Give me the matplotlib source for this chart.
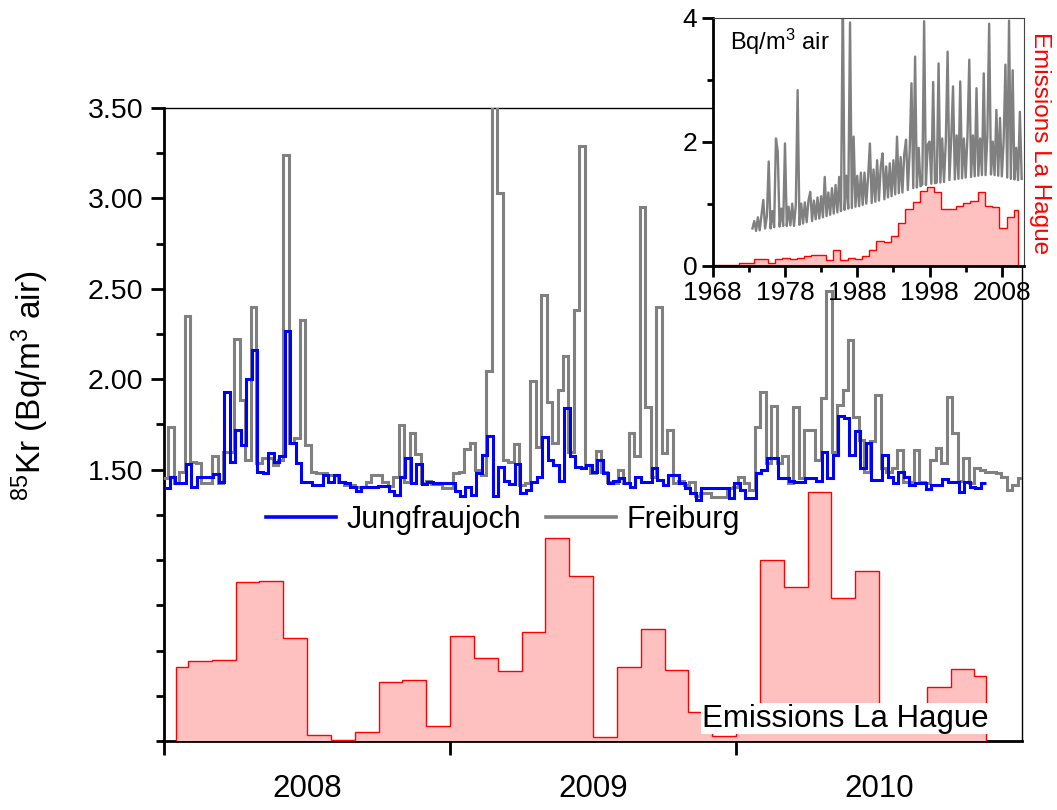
import numpy as np
import matplotlib
matplotlib.use('Agg')
import matplotlib.pyplot as plt
from matplotlib.lines import Line2D
from matplotlib.ticker import FixedLocator, FixedFormatter, NullFormatter

plt.rcParams['font.family'] = ['Liberation Sans', 'DejaVu Sans']
plt.rcParams['mathtext.default'] = 'regular'

WEEK = 7 / 365.25

# weekly 85Kr activity (Bq/m3 air), first week starts 1 Jan 2008
jungfraujoch = [
    1.397, 1.462, 1.425, 1.425, 1.532, 1.407, 1.462, 1.462, 1.462, 1.475,
    1.434, 1.932, 1.545, 1.720, 1.637, 2.000, 2.162, 1.490, 1.481, 1.591,
    1.540, 1.576, 2.269, 1.650, 1.536, 1.434, 1.434, 1.416, 1.416, 1.471,
    1.430, 1.471, 1.434, 1.425, 1.407, 1.380, 1.407, 1.407, 1.407, 1.410,
    1.410, 1.380, 1.360, 1.462, 1.563, 1.425, 1.532, 1.420, 1.434, 1.429,
    1.429, 1.429, 1.429, 1.380, 1.352, 1.407, 1.361, 1.481, 1.582, 1.689,
    1.352, 1.517, 1.440, 1.422, 1.532, 1.370, 1.388, 1.434, 1.458, 1.680,
    1.554, 1.527, 1.440, 1.840, 1.573, 1.517, 1.508, 1.527, 1.490, 1.551,
    1.484, 1.425, 1.440, 1.453, 1.425, 1.403, 1.462, 1.434, 1.434, 1.508,
    1.444, 1.416, 1.471, 1.471, 1.425, 1.398, 1.370, 1.333, 1.398, 1.398,
    1.398, 1.398, 1.398, 1.342, 1.425, 1.388, 1.342, 1.342, 1.484, 1.499,
    1.564, 1.564, 1.453, 1.453, 1.440, 1.434, 1.434, 1.453, 1.453, 1.440,
    1.600, 1.456, 1.582, 1.797, 1.785, 1.582, 1.714, 1.508, 1.650, 1.444,
    1.444, 1.582, 1.462, 1.425, 1.490, 1.462, 1.416, 1.425, 1.425, 1.392,
    1.416, 1.416, 1.447, 1.434, 1.434, 1.374, 1.434, 1.403, 1.400, 1.425,
]

# Freiburg weeks start 0.21 week earlier than Jungfraujoch
freiburg_offset = -0.21
freiburg = [
    1.453, 1.735, 1.425, 1.490, 2.350, 1.545, 1.536, 1.425, 1.425, 1.573,
    1.429, 1.600, 1.600, 2.221, 1.886, 1.554, 2.402, 1.536, 1.564, 1.564,
    1.527, 1.554, 3.240, 1.646, 1.674, 2.328, 1.637, 1.490, 1.481, 1.481,
    1.471, 1.471, 1.434, 1.416, 1.416, 1.407, 1.407, 1.434, 1.471, 1.471,
    1.430, 1.410, 1.462, 1.748, 1.430, 1.702, 1.587, 1.425, 1.440, 1.420,
    1.420, 1.400, 1.400, 1.484, 1.490, 1.613, 1.650, 1.500, 1.470, 2.048,
    3.600, 3.030, 1.554, 1.545, 1.643, 1.416, 1.425, 1.993, 1.628, 2.466,
    1.877, 1.646, 1.941, 2.129, 1.600, 2.383, 3.290, 1.527, 1.480, 1.604,
    1.490, 1.434, 1.425, 1.499, 1.425, 1.702, 1.573, 2.955, 1.849, 1.462,
    2.400, 1.590, 1.720, 1.425, 1.440, 1.416, 1.434, 1.352, 1.370, 1.370,
    1.348, 1.348, 1.348, 1.400, 1.407, 1.458, 1.425, 1.388, 1.738, 1.932,
    1.536, 1.853, 1.536, 1.573, 1.425, 1.846, 1.453, 1.720, 1.720, 1.554,
    1.895, 2.490, 1.600, 1.858, 1.940, 2.217, 1.794, 1.665, 1.490, 1.656,
    1.913, 1.508, 1.486, 1.508, 1.609, 1.434, 1.434, 1.609, 1.434, 1.425,
    1.554, 1.619, 1.535, 1.904, 1.702, 1.440, 1.563, 1.425, 1.508, 1.500,
    1.490, 1.490, 1.480, 1.462, 1.388, 1.416, 1.453,
]

# monthly La Hague emissions, Jan 2008 .. Nov 2010 (arbitrary units)
emis_month = [
    0.41, 0.44, 0.45, 0.88, 0.885, 0.57, 0.033, 0.008, 0.05, 0.326, 0.337, 0.083,
    0.58, 0.46, 0.387, 0.60, 1.12, 0.91, 0.02, 0.41, 0.62, 0.39, 0.16, 0.025,
    0.12, 1.00, 0.85, 1.376, 0.79, 0.94, 0.15, 0.10, 0.30, 0.40, 0.36,
]

# inset: yearly emissions 1968..2010
inset_years = list(range(1968, 2011))
inset_emis = [
    0.01, 0.01, 0.01, 0.01, 0.04, 0.04, 0.11, 0.11, 0.05, 0.11,
    0.12, 0.10, 0.13, 0.15, 0.18, 0.18, 0.09, 0.25, 0.09, 0.13,
    0.10, 0.16, 0.25, 0.40, 0.38, 0.48, 0.69, 0.91, 1.03, 1.21,
    1.27, 1.19, 0.92, 0.91, 0.97, 1.01, 1.05, 1.19, 0.97, 0.94,
    0.61, 0.78, 0.89,
]

# inset: Freiburg long-term record, quarterly from 1973.5
inset_kr_start = 1973.5
inset_kr = [
    0.60, 0.72,
    0.56, 0.78, 0.57, 0.82,
    1.06, 0.60, 0.80, 1.68,
    0.60, 0.88, 0.62, 2.05,
    1.84, 0.63, 0.92, 0.64,
    1.97, 0.64, 0.95, 0.65,
    1.00, 0.64, 0.98, 2.83,
    0.66, 1.00, 0.68, 1.02,
    0.70, 1.05, 1.19, 0.72,
    1.05, 0.75, 1.10, 0.76,
    1.12, 0.78, 1.43, 0.80,
    1.18, 0.82, 1.25, 0.84,
    1.30, 0.86, 1.43, 0.88,
    4.40, 0.90, 1.45, 0.92,
    3.92, 0.93, 2.08, 0.95,
    1.45, 0.96, 1.50, 0.98,
    1.50, 1.00, 1.43, 1.97,
    1.01, 1.55, 1.03, 1.70,
    1.05, 1.60, 1.81, 1.07,
    1.60, 1.10, 1.65, 1.12,
    1.70, 1.15, 2.08, 1.17,
    1.75, 1.18, 1.80, 2.03,
    1.22, 1.85, 2.94, 1.25,
    3.37, 1.26, 1.90, 1.28,
    1.31, 3.94, 1.30, 1.95,
    2.00, 1.32, 2.96, 1.33,
    1.34, 3.26, 1.34, 2.05,
    1.35, 2.00, 3.45, 1.38,
    2.05, 2.89, 1.39, 2.10,
    1.40, 2.97, 1.41, 2.05,
    1.42, 2.10, 3.32, 1.43,
    2.10, 1.44, 2.86, 1.45,
    2.05, 1.46, 3.10, 1.46,
    2.10, 3.90, 1.47, 2.00,
    1.46, 2.51, 1.45, 2.38,
    1.44, 2.00, 3.24, 1.42,
    3.95, 1.40, 3.15, 1.39,
    1.90, 1.38, 2.48, 1.40,
]

fig = plt.figure(figsize=(10.57, 8.10), dpi=100)
ax = fig.add_axes([0.1552, 0.0852, 0.8117, 0.7815])

jf_edges = 2008 + np.arange(len(jungfraujoch) + 1) * WEEK
fr_edges = 2008 + (np.arange(len(freiburg) + 1) + freiburg_offset) * WEEK
em_edges = 2008 + np.array([0.5] + list(range(1, len(emis_month))) + [len(emis_month) - 0.5]) / 12

ax.stairs(emis_month, em_edges, fill=True, color='#ffc0c0', zorder=3)
ax.stairs(emis_month, em_edges, baseline=0, color='red', lw=1, zorder=3.1)
ax.stairs(freiburg, fr_edges, baseline=None, color='#808080', lw=2.2, zorder=4)
ax.stairs(jungfraujoch, jf_edges, baseline=None, color='blue', lw=2.2, zorder=5)

ax.set_xlim(2008, 2011)
ax.set_ylim(0, 3.5)

ax.yaxis.set_major_locator(FixedLocator([1.5, 2.0, 2.5, 3.0, 3.5]))
ax.yaxis.set_major_formatter('{x:.2f}')
ax.yaxis.set_minor_locator(FixedLocator(np.arange(0, 3.5, 0.25)))
ax.tick_params(axis='y', which='major', direction='out', length=9.5, width=2,
               labelsize=20.5, pad=5.5)
ax.tick_params(axis='y', which='minor', direction='out', length=6, width=2)

ax.xaxis.set_major_locator(FixedLocator([2008, 2009, 2010]))
ax.xaxis.set_major_formatter(NullFormatter())
ax.xaxis.set_minor_locator(FixedLocator([2008.5, 2009.5, 2010.5]))
ax.xaxis.set_minor_formatter(FixedFormatter(['2008', '2009', '2010']))
ax.tick_params(axis='x', which='major', direction='out', length=10, width=2)
ax.tick_params(axis='x', which='minor', length=0, labelsize=22.5, pad=24)

for side in ['left', 'bottom']:
    ax.spines[side].set_linewidth(2)
for side in ['top', 'right']:
    ax.spines[side].set_linewidth(1)

fig.text(30 / 1057, 1 - 386 / 810, r'$^{85}$Kr (Bq/m$^{3}$ air)', rotation=90,
         ha='center', va='center', fontsize=24)

handles = [Line2D([], [], color='blue', lw=2.6), Line2D([], [], color='#808080', lw=2.6)]
ax.legend(handles, ['Jungfraujoch', 'Freiburg'], loc='center',
          bbox_to_anchor=(503 / 1057, 1 - 520 / 810), bbox_transform=fig.transFigure,
          ncol=2, frameon=False, fontsize=22, handlelength=2.3, handletextpad=0.35,
          columnspacing=0.8, borderpad=0, borderaxespad=0)

ax.text(0.7937, 0.0355, 'Emissions La Hague', transform=ax.transAxes,
        ha='center', va='center', fontsize=22.5, zorder=6,
        bbox=dict(facecolor='white', edgecolor='none', pad=0.5))

# inset with the long-term record
axi = fig.add_axes([712.7 / 1057, 1 - 265.7 / 810, 310.8 / 1057, 248.2 / 810])
axi.set_zorder(10)
axi.set_facecolor('white')

inset_edges = list(np.array(inset_years) - 0.35) + [2010.3]
axi.stairs(inset_emis, inset_edges, fill=True, color='#ffc0c0', zorder=1)
axi.stairs(inset_emis, inset_edges, baseline=0, color='red', lw=1, zorder=1.1)
kr_years = inset_kr_start + 0.25 * np.arange(len(inset_kr))
axi.plot(kr_years, inset_kr, color='#808080', lw=1.7, zorder=2)

axi.set_xlim(1968, 2011)
axi.set_ylim(0, 4)
axi.xaxis.set_major_locator(FixedLocator([1968, 1978, 1988, 1998, 2008]))
axi.xaxis.set_minor_locator(FixedLocator([1973, 1983, 1993, 2003]))
axi.yaxis.set_major_locator(FixedLocator([0, 2, 4]))
axi.yaxis.set_minor_locator(FixedLocator([1, 3]))
axi.tick_params(which='major', direction='out', length=8, width=2, labelsize=19, pad=3)
axi.tick_params(which='minor', direction='out', length=4, width=2)
for side in ['left', 'bottom']:
    axi.spines[side].set_linewidth(2)
for side in ['top', 'right']:
    axi.spines[side].set_linewidth(0.8)
    axi.spines[side].set_color('#444444')

axi.text(0.056, 0.869, r'Bq/m$^{3}$ air', transform=axi.transAxes,
         ha='left', va='baseline', fontsize=17)
fig.text(1040 / 1057, 1 - 143 / 810, 'Emissions La Hague', rotation=270,
         color='red', ha='center', va='center', fontsize=17.5)

fig.savefig('out.png', dpi=100)
